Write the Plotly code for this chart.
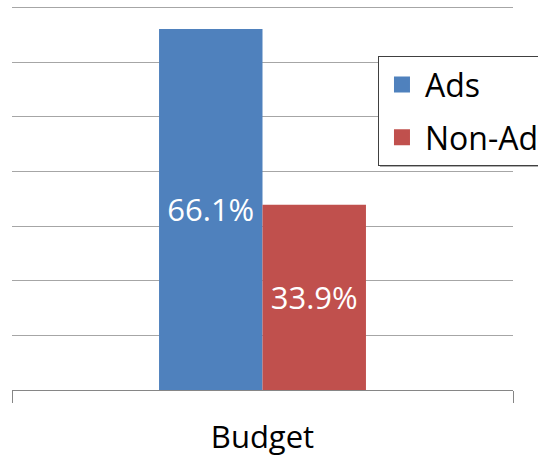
import plotly.graph_objects as go

categories = ['Budget']
series_names = ['Ads', 'Non-Ad']
series_values = [[0.661], [0.339]]
series_colors = ['#4F81BD', '#C0504D']
label_text = ['66.1%', '33.9%']

FONT = 'Open Sans'

fig = go.Figure()

for i, name in enumerate(series_names):
    fig.add_trace(go.Bar(
        x=categories, y=series_values[i], name=name,
        marker=dict(color=series_colors[i], line=dict(width=0)),
        text=[label_text[i]], textposition='inside', insidetextanchor='middle',
        textfont=dict(family=FONT, size=31, color='white'),
        showlegend=False, hoverinfo='skip',
    ))
    # legend entry with a larger square swatch
    fig.add_trace(go.Scatter(
        x=[None], y=[None], mode='markers', name=name, legendgroup=name,
        marker=dict(symbol='square', size=20, color=series_colors[i]),
        showlegend=True,
    ))

# soft shadow under the legend box
fig.add_shape(type='rect', xref='paper', yref='paper',
              x0=0.7345, x1=1.1, y0=0.581, y1=0.859,
              fillcolor='#b0b0b0', line=dict(width=0), layer='above')

fig.update_layout(
    width=538, height=459,
    margin=dict(l=12, r=25, t=6, b=69, autoexpand=False),
    paper_bgcolor='white', plot_bgcolor='white',
    barmode='group', bargap=0.587, bargroupgap=0,
    font=dict(family=FONT, color='black'),
    legend=dict(
        x=0.7305, xanchor='left', y=0.869, yanchor='top',
        bgcolor='white', bordercolor='#404040', borderwidth=1,
        font=dict(family=FONT, size=32, color='black'),
        traceorder='grouped', tracegroupgap=8,
        itemsizing='trace', itemwidth=36,
    ),
    xaxis=dict(
        showgrid=False, showline=True, linecolor='#868686', linewidth=1,
        ticks='outside', tickson='boundaries', ticklen=12, tickcolor='#868686',
        tickfont=dict(family=FONT, size=31, color='black'),
        ticklabelstandoff=20, automargin=False,
    ),
    yaxis=dict(
        range=[0, 0.703], dtick=0.1, showticklabels=False,
        showgrid=True, gridcolor='#a6a6a6', gridwidth=1,
        zeroline=False, showline=False, ticks='', automargin=False,
    ),
)

fig.write_html('out.html', config={'displayModeBar': False},
               post_script="document.body.style.margin='0';")
